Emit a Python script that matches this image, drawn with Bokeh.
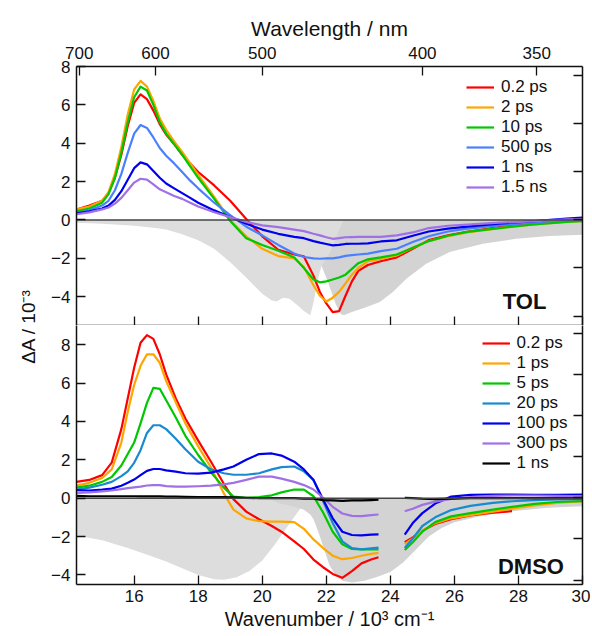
import math
from bokeh.plotting import figure
from bokeh.models import (Range1d, LinearAxis, FixedTicker, CustomJSTickFormatter,
                          Legend, LegendItem, Label, Span)
from bokeh.layouts import row, column
from bokeh.embed import file_html
from bokeh.resources import INLINE

NaN = float("nan")
FONT = "Liberation Sans"

# ---------------- data ----------------
wl_ticks_nm = [700, 600, 500, 400, 350]
wn_ticks = [16, 18, 20, 22, 24, 26, 28, 30]
dA_ticks = [-4, -2, 0, 2, 4, 6, 8]
gs_ticks_tol = [-2, -1, 0, 1, 2, 3]
gs_ticks_dmso = [-2, -1, 0, 1, 2, 3, 4]

# TOL panel
tol_labels = ["0.2 ps", "2 ps", "10 ps", "500 ps", "1 ns", "1.5 ns"]
tol_colors = ["#ff0000", "#ffa500", "#00c800", "#4a80ff", "#0000ee", "#a070e6"]
tol_wn = [14.2, 14.6, 15.0, 15.2, 15.4, 15.6, 15.8, 16.0, 16.2, 16.4, 16.6, 16.8, 17.0, 17.25,
          17.5, 17.75, 18.0, 18.5, 19.0, 19.5,
          20.0, 20.5, 21.0, 21.3, 21.6, 21.8, 22.0, 22.2, 22.4, 22.6, 22.8, 23.0, 23.3, 23.7,
          24.2, 24.7, 25.2, 25.8, 26.4, 27.4, 28.4, 29.5, 30.0]
tol_02ps = [0.55, 0.75, 1.0, 1.4, 2.2, 3.4, 4.9, 6.1, 6.55, 6.3, 5.7, 5.0, 4.45, 3.95,
            3.4, 2.95, 2.5, 1.8, 1.0, 0.05,
            -0.85, -1.55, -1.8, -1.9, -2.9, -3.75, -4.35, -4.8, -4.75, -3.95, -3.2, -2.65, -2.35, -2.15,
            -1.95, -1.5, -1.05, -0.8, -0.62, -0.37, -0.2, -0.07, 0.0]
tol_2ps = [0.55, 0.7, 1.0, 1.45, 2.4, 3.8, 5.5, 6.8, 7.25, 6.95, 6.2, 5.3, 4.7, 4.1,
           3.55, 2.95, 2.35, 1.2, 0.0, -0.85,
           -1.5, -1.88, -2.0, -2.45, -3.4, -3.95, -4.25, -4.05, -3.75, -3.3, -2.85, -2.5, -2.15, -2.03,
           -1.85, -1.45, -1.1, -0.85, -0.65, -0.42, -0.25, -0.1, -0.05]
tol_10ps = [0.45, 0.6, 0.9, 1.35, 2.2, 3.5, 5.1, 6.4, 6.95, 6.75, 6.0, 5.1, 4.5, 3.95,
            3.4, 2.8, 2.2, 1.1, -0.05, -0.95,
            -1.3, -1.6, -1.95, -2.5, -3.1, -3.25, -3.2, -3.1, -3.0, -2.85, -2.55, -2.25, -2.05, -1.95,
            -1.8, -1.45, -1.1, -0.82, -0.62, -0.42, -0.24, -0.1, -0.06]
tol_500ps = [0.35, 0.5, 0.75, 1.0, 1.55, 2.4, 3.5, 4.5, 4.95, 4.8, 4.3, 3.75, 3.35, 2.95,
             2.5, 2.05, 1.65, 0.9, 0.25, -0.35,
             -0.8, -1.3, -1.75, -1.93, -2.0, -2.02, -2.0, -2.0, -1.95, -1.87, -1.83, -1.8, -1.75, -1.62,
             -1.5, -1.15, -0.85, -0.6, -0.45, -0.28, -0.14, 0.0, 0.05]
tol_1ns = [0.35, 0.45, 0.6, 0.75, 1.05, 1.5, 2.1, 2.7, 3.0, 2.9, 2.55, 2.2, 1.9, 1.65,
           1.4, 1.15, 0.9, 0.5, 0.15, -0.2,
           -0.5, -0.72, -0.88, -0.95, -1.1, -1.18, -1.25, -1.32, -1.3, -1.25, -1.24, -1.24, -1.22, -1.12,
           -1.06, -0.82, -0.6, -0.45, -0.35, -0.19, -0.07, 0.07, 0.12]
tol_1_5ns = [0.3, 0.4, 0.55, 0.65, 0.85, 1.15, 1.55, 1.95, 2.15, 2.1, 1.85, 1.6, 1.45, 1.25,
             1.1, 0.9, 0.7, 0.4, 0.15, -0.1,
             -0.28, -0.37, -0.5, -0.58, -0.72, -0.8, -0.9, -0.98, -0.95, -0.9, -0.89, -0.88, -0.88, -0.88,
             -0.8, -0.65, -0.42, -0.3, -0.24, -0.14, -0.07, 0.03, 0.05]
tol_series = [tol_02ps, tol_2ps, tol_10ps, tol_500ps, tol_1ns, tol_1_5ns]

# TOL ground-state absorption (inverted, two pieces)
tol_gs_light_wn = [14.2, 15.0, 16.0, 16.6, 17.0, 17.5, 18.0, 18.5, 19.0, 19.5, 20.0, 20.3, 20.45,
                   20.65, 20.85, 21.1, 21.3, 21.5, 21.6, 21.7, 21.8, 21.85, 22.0, 22.1, 22.25, 22.4, 22.55]
tol_gs_light = [-0.15, -0.2, -0.3, -0.4, -0.5, -0.75, -1.05, -1.5, -2.2, -3.0, -3.85, -4.2, -4.25,
                -4.05, -4.1, -4.45, -4.75, -4.97, -4.3, -3.4, -2.7, -2.4, -2.0, -1.75, -1.2, -0.5, 0.0]
tol_gs_dark_wn = [21.85, 22.0, 22.15, 22.3, 22.45, 22.55, 22.8, 23.26, 23.67, 24.08, 24.5, 25.12,
                  25.85, 26.89, 27.93, 28.97, 30.0]
tol_gs_dark = [-2.4, -3.0, -3.7, -4.4, -4.9, -4.97, -4.8, -4.53, -4.27, -3.75, -3.06, -2.28,
               -1.67, -1.24, -0.98, -0.84, -0.77]

# DMSO panel (gap between 23.63 and 24.45)
dmso_labels = ["0.2 ps", "1 ps", "5 ps", "20 ps", "100 ps", "300 ps", "1 ns"]
dmso_colors = ["#ff0000", "#ffa500", "#00c800", "#1a8ad0", "#0000ee", "#a070e6", "#000000"]
dmso_wn = [14.2, 14.6, 15.0, 15.3, 15.6, 15.8, 16.0, 16.2, 16.4, 16.6, 16.8, 17.0, 17.3, 17.6,
           18.0, 18.4, 18.8, 19.1, 19.5, 19.9, 20.3, 20.6, 21.0, 21.3, 21.6, 21.9, 22.2, 22.5, 22.8,
           23.1, 23.4, 23.63,
           24.0,
           24.45, 24.7, 25.0, 25.4, 25.9, 26.5, 27.2, 27.8, 28.5, 29.2, 30.0]
dmso_02ps = [0.85, 0.95, 1.2, 1.85, 3.6, 5.2, 6.8, 8.1, 8.5, 8.3, 7.5, 6.45, 5.2, 4.15,
             3.0, 1.9, 0.75, -0.05, -0.7, -1.1, -1.45, -1.75, -2.25, -2.65, -3.2, -3.6, -3.95, -4.15, -3.8,
             -3.4, -3.2, -3.08,
             NaN,
             -2.3, -2.05, -1.7, -1.35, -1.1, -0.9, -0.75, -0.68, NaN, NaN, NaN]
dmso_1ps = [0.65, 0.8, 1.05, 1.5, 2.9, 4.5, 5.9, 6.9, 7.5, 7.5, 7.05, 6.1, 5.0, 3.9,
            2.7, 1.6, 0.25, -0.6, -1.05, -1.2, -1.22, -1.22, -1.25, -1.6, -2.15, -2.6, -3.0, -3.18, -3.12,
            -3.0, -2.9, -2.85,
            NaN,
            -2.4, -2.1, -1.7, -1.3, -1.05, -0.88, -0.7, -0.55, -0.38, -0.25, -0.15]
dmso_5ps = [0.55, 0.65, 0.85, 1.1, 1.7, 2.3, 2.9, 3.9, 4.97, 5.75, 5.7, 5.1, 4.2, 3.25,
            2.25, 1.35, 0.55, 0.08, 0.02, 0.05, 0.15, 0.3, 0.45, 0.45, 0.1, -0.75, -1.75, -2.4, -2.65,
            -2.67, -2.67, -2.67,
            NaN,
            -2.7, -2.3, -1.75, -1.25, -0.95, -0.78, -0.6, -0.45, -0.3, -0.2, -0.15]
dmso_20ps = [0.45, 0.55, 0.7, 0.85, 1.15, 1.4, 1.84, 2.5, 3.4, 3.8, 3.8, 3.6, 3.1, 2.55,
             1.9, 1.5, 1.3, 1.22, 1.22, 1.3, 1.5, 1.62, 1.65, 1.4, 0.95, -0.15, -1.3, -2.25, -2.6,
             -2.67, -2.62, -2.58,
             NaN,
             -2.6, -2.1, -1.45, -1.0, -0.62, -0.4, -0.25, -0.16, -0.1, -0.07, -0.05]
dmso_100ps = [0.42, 0.4, 0.45, 0.5, 0.65, 0.8, 0.97, 1.2, 1.42, 1.52, 1.52, 1.45, 1.38, 1.3,
              1.28, 1.33, 1.5, 1.65, 2.0, 2.3, 2.33, 2.22, 1.9, 1.5, 0.95, -0.07, -1.05, -1.75, -1.92,
              -1.94, -1.9, -1.89,
              NaN,
              -1.9, -1.3, -0.78, -0.28, 0.08, 0.17, 0.19, 0.19, 0.17, 0.17, 0.19]
dmso_300ps = [0.28, 0.3, 0.35, 0.4, 0.47, 0.52, 0.56, 0.6, 0.66, 0.68, 0.68, 0.63, 0.6, 0.6,
              0.62, 0.65, 0.72, 0.8, 0.95, 1.12, 1.12, 1.02, 0.85, 0.68, 0.45, 0.02, -0.45, -0.8, -0.92,
              -0.94, -0.88, -0.85,
              NaN,
              -0.68, -0.55, -0.35, -0.18, -0.04, 0.05, 0.12, 0.14, 0.14, 0.12, 0.1]
dmso_1ns = [0.12, 0.1, 0.1, 0.1, 0.1, 0.1, 0.1, 0.09, 0.09, 0.1, 0.09, 0.08, 0.08, 0.07,
            0.06, 0.06, 0.05, 0.04, 0.02, 0.0, 0.0, 0.0, 0.0, -0.02, -0.02, -0.1, -0.12, -0.14, -0.12,
            -0.12, -0.1, -0.08,
            NaN,
            0.02, 0.0, -0.03, -0.05, -0.02, 0.0, 0.0, 0.0, 0.0, 0.0, 0.0]
dmso_series = [dmso_02ps, dmso_1ps, dmso_5ps, dmso_20ps, dmso_100ps, dmso_300ps, dmso_1ns]

# DMSO ground-state absorption (inverted, two pieces)
dmso_gs_light_wn = [14.2, 15.0, 15.8, 16.5, 17.0, 17.5, 18.0, 18.5, 18.8, 19.2, 19.6, 20.0, 20.4,
                    20.8, 21.1, 21.3, 21.5]
dmso_gs_light = [-1.95, -2.2, -2.6, -3.0, -3.3, -3.65, -4.0, -4.22, -4.25, -4.12, -3.8, -3.25, -2.4,
                 -1.45, -0.75, -0.3, 0.0]
dmso_gs_dark_wn = [20.2, 20.5, 21.0, 21.3, 21.5, 21.6, 21.75, 21.9, 22.1, 22.3, 22.5, 22.8, 23.2,
                   23.6, 24.0, 24.4, 24.7, 25.2, 25.6, 26.0, 26.8, 27.8, 28.9, 30.0]
dmso_gs_dark = [0.0, -0.25, -0.45, -0.6, -0.85, -1.1, -1.75, -2.5, -3.5, -4.05, -4.3, -4.4, -4.3,
                -4.1, -3.85, -3.35, -2.85, -2.0, -1.55, -1.25, -0.94, -0.68, -0.5, -0.42]

# ---------------- helpers ----------------
GS_LIGHT = "#dddddd"
GS_DARK = "#d3d3d3"
AX = dict(major_tick_in=9, major_tick_out=0, minor_tick_line_color=None,
          axis_line_color="#111111", axis_line_width=1.5,
          major_tick_line_color="#111111", major_tick_line_width=1.3,
          major_label_text_font=FONT, major_label_text_font_size="17px",
          major_label_text_color="#111111",
          axis_label_text_font=FONT, axis_label_text_font_size="20px",
          axis_label_text_font_style="normal", axis_label_text_color="#111111")
HIDDEN = dict(AX, major_label_text_font_size="1px", major_label_text_color=None,
              major_label_standoff=0)
FH = 259


def make_panel(ylo, yhi, gs_range, gs_ticks, top):
    p = figure(frame_width=506, frame_height=FH,
               x_range=Range1d(14.2, 30), y_range=Range1d(ylo, yhi),
               toolbar_location=None, output_backend="svg",
               x_axis_location=None, y_axis_location=None,
               min_border_left=28, min_border_right=8,
               min_border_top=66 if top else 0, min_border_bottom=0 if top else 50)
    p.outline_line_color = None
    p.xgrid.visible = False
    p.ygrid.visible = False
    p.background_fill_color = "white"
    p.add_layout(LinearAxis(ticker=FixedTicker(ticks=dA_ticks), major_label_standoff=6, **AX), "left")
    p.extra_y_ranges = {"gs": Range1d(*gs_range)}
    p.add_layout(LinearAxis(y_range_name="gs", ticker=FixedTicker(ticks=gs_ticks), **HIDDEN), "right")
    if top:
        p.add_layout(LinearAxis(ticker=FixedTicker(ticks=[1e4 / w for w in wl_ticks_nm]),
                                formatter=CustomJSTickFormatter(code="return (1e4/tick).toFixed(0);"),
                                axis_label="Wavelength / nm", major_label_standoff=8,
                                axis_label_standoff=4, axis_label_text_font_size="21px",
                                **{k: v for k, v in AX.items() if k != "axis_label_text_font_size"}),
                     "above")
        p.add_layout(LinearAxis(ticker=FixedTicker(ticks=wn_ticks), **HIDDEN), "below")
    else:
        p.add_layout(LinearAxis(ticker=FixedTicker(ticks=wn_ticks),
                                axis_label="Wavenumber / 10\u00b3 cm\u207b\u00b9",
                                major_label_standoff=5, axis_label_standoff=3, **AX), "below")
    return p


def legend(items, vx, vy):
    return Legend(items=items, location=(vx, vy), glyph_width=28, glyph_height=18,
                  label_height=18, spacing=0, padding=0, margin=0, label_standoff=7,
                  label_text_font=FONT, label_text_font_size="17px", label_text_color="#111111",
                  border_line_color=None, background_fill_alpha=0)


# ---------------- top: TOL ----------------
p1 = make_panel(-5.5, 8, (-2.197, 3.18), gs_ticks_tol, True)
p1.varea(x=tol_gs_dark_wn, y1=0, y2=tol_gs_dark, fill_color=GS_DARK)
p1.varea(x=tol_gs_light_wn, y1=0, y2=tol_gs_light, fill_color=GS_LIGHT)
p1.add_layout(Span(location=0, dimension="width", line_color="#444444", line_width=1.5, level="glyph"))
items1 = []
for lab, col, ys in zip(tol_labels, tol_colors, tol_series):
    r = p1.line(tol_wn, ys, line_color=col, line_width=2.2, line_join="round")
    items1.append(LegendItem(label=lab, renderers=[r]))
p1.add_layout(legend(items1, 390, 128.5))
p1.add_layout(Label(x=27.51, y=-4.24, text="TOL", text_font=FONT, text_font_style="bold",
                    text_font_size="22px", text_color="#111111", text_baseline="alphabetic"))

# ---------------- bottom: DMSO ----------------
p2 = make_panel(-4.5, 9, (-2.107, 4.19), gs_ticks_dmso, False)
p2.varea(x=dmso_gs_light_wn, y1=0, y2=dmso_gs_light, fill_color=GS_LIGHT)
p2.varea(x=dmso_gs_dark_wn, y1=0, y2=dmso_gs_dark, fill_color=GS_DARK)
p2.add_layout(Span(location=0, dimension="width", line_color="#444444", line_width=1.5, level="glyph"))
items2 = []
for lab, col, ys in zip(dmso_labels, dmso_colors, dmso_series):
    r = p2.line(dmso_wn, ys, line_color=col, line_width=2.2, line_join="round")
    items2.append(LegendItem(label=lab, renderers=[r]))
p2.add_layout(legend(items2, 405.5, 111))
p2.add_layout(Label(x=27.36, y=-3.54, text="DMSO", text_font=FONT, text_font_style="bold",
                    text_font_size="22px", text_color="#111111", text_baseline="alphabetic"))

# ---------------- shared y-axis title ----------------
H = 634
lab_fig = figure(width=48, height=H, x_range=Range1d(0, 48), y_range=Range1d(0, H),
                 toolbar_location=None, output_backend="svg",
                 x_axis_location=None, y_axis_location=None,
                 min_border=0, min_border_left=0, min_border_right=0,
                 min_border_top=0, min_border_bottom=0)
lab_fig.outline_line_color = None
lab_fig.xgrid.visible = False
lab_fig.ygrid.visible = False
lab_fig.add_layout(Label(x=28, y=H - 326, text="\u0394A / 10\u207b\u00b3", angle=math.pi / 2,
                         text_align="center", text_baseline="middle", text_font=FONT,
                         text_font_size="19px", text_color="#111111"))

layout = row(lab_fig, column(p1, p2, spacing=0), spacing=0)
open("out.html", "w").write(file_html(layout, INLINE))
